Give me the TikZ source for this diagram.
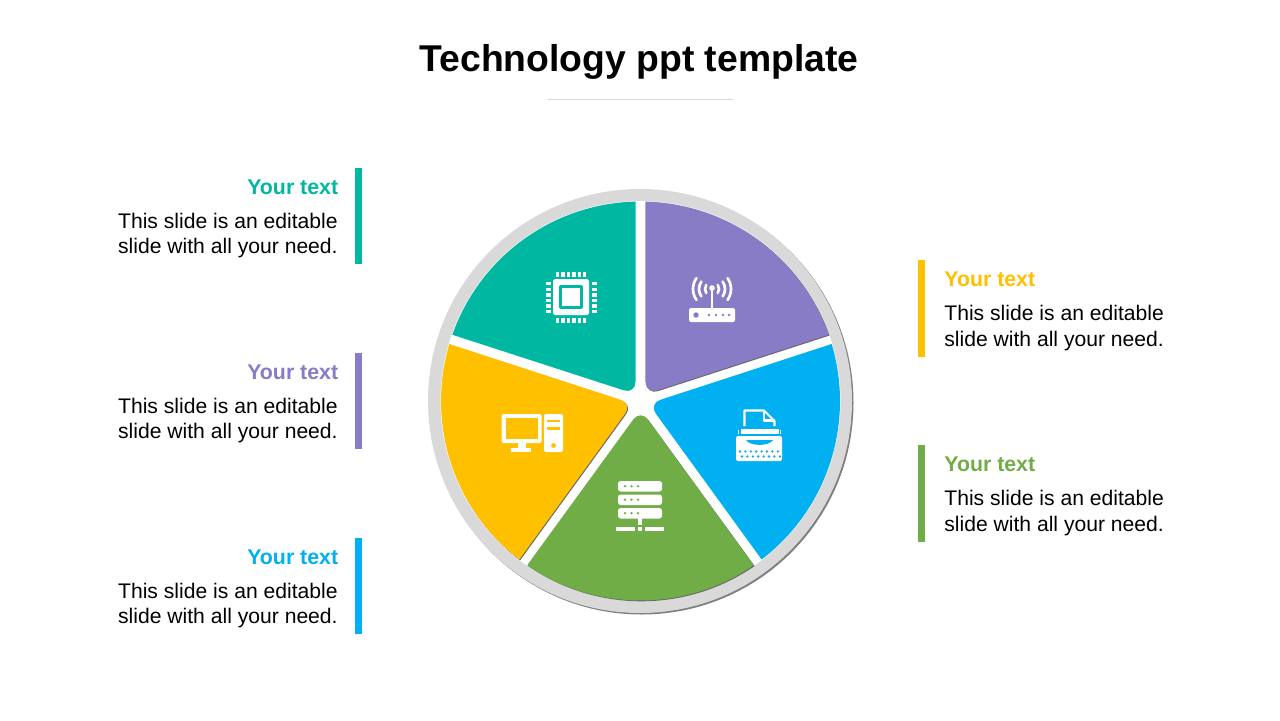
\documentclass[tikz,border=0pt]{standalone}
\usepackage{fontspec}
\setmainfont{Liberation Sans}
\definecolor{tealc}{HTML}{00B8A2}
\definecolor{purplec}{HTML}{887CC7}
\definecolor{yellowc}{HTML}{FFC000}
\definecolor{bluec}{HTML}{00B0F0}
\definecolor{greenc}{HTML}{70AD47}
\definecolor{ringc}{HTML}{D9D9D9}
\tikzset{
	headtext/.style={inner sep=0pt,font=\fontsize{12.14}{14.2}\selectfont\bfseries},
	bodytext/.style={inner sep=0pt,font=\fontsize{12.02}{14.3}\selectfont},
	icon/.style={white,line width=1.5pt}
}
\begin{document}
\begin{tikzpicture}[line join=round,x=.02cm,y=-.02cm]
	\useasboundingbox (0,0) rectangle (1280,720);
	\node[font=\fontsize{21.24}{25}\selectfont\bfseries,inner sep=0pt] (title) at (639,62) {Technology ppt template};
	\draw[black!15,thin] (548,99)--(733,99);
	% side texts
	\foreach \nm/\col/\y in {chip/tealc/168,router/purplec/353,printer/bluec/538} {
		\fill[\col] (355,\y) rectangle (362,\y+96);
		\node[headtext,text=\col,anchor=east] (head\nm) at (338.5,\y+19) {Your text};
		\node[bodytext,align=right,anchor=east] (body\nm) at (338,\y+67.5) {This slide is an editable\\slide with all your need.};
	}
	\foreach \nm/\col/\y in {pc/yellowc/260,server/greenc/445} {
		\fill[\col] (918,\y) rectangle (925,\y+97);
		\node[headtext,text=\col,anchor=west] (head\nm) at (944,\y+19) {Your text};
		\node[bodytext,align=left,anchor=west] (body\nm) at (944,\y+68) {This slide is an editable\\slide with all your need.};
	}
	% ring and sectors
	\fill[black!50] (641.5,402.5) circle (212);
	\fill[ringc] (640,401) circle (212);
	\fill[white] (640.5,401) circle (200);
	\begin{scope}[shift={(640.5,401)}]
		\foreach \a/\col/\sh in {-90/purplec/1,-18/bluec/0,54/greenc/1,126/yellowc/1,198/tealc/0} {
			\ifnum\sh=1
			\fill[black!60,shift={(.8,.8)}] ({\a+1.4}:199.5) arc[start angle=\a+1.4,end angle=\a+70.6,radius=199.5] [rounded corners=7pt] -- ({\a+36}:8.5) [sharp corners] -- cycle;
			\fi
			\fill[\col] ({\a+1.4}:199.5) arc[start angle=\a+1.4,end angle=\a+70.6,radius=199.5] [rounded corners=7pt] -- ({\a+36}:8.5) [sharp corners] -- cycle;
		}
	\end{scope}
	% chip
	\fill[white,rounded corners=1pt] (553,279) rectangle (589,315);
	\draw[tealc,line width=1.7pt] (560.5,286.5) rectangle (581.5,307.5);
	\foreach \i in {0,...,5} {
		\fill[white] (556+\i*5.4,272) rectangle +(3.4,4.5);
		\fill[white] (556+\i*5.4,318) rectangle +(3.4,4.5);
		\fill[white] (545.5,282+\i*5.6) rectangle +(5.5,3.4);
		\fill[white] (591.5,282+\i*5.6) rectangle +(5.5,3.4);
	}
	% router
	\fill[white,rounded corners=1.2pt] (689,308) rectangle (735,322);
	\fill[purplec] (696,315) circle (2.7);
	\foreach \x in {709,716,723,729}
	\fill[purplec] (\x,315) circle (1.3);
	\draw[white,line width=1.2pt] (712,290)--(712,308);
	\fill[white] (712,288) circle (2.8);
	\foreach \r in {7,13,19} {
		\draw[icon,line cap=round] (712,289)++(145:\r) arc[start angle=145,end angle=215,radius=\r];
		\draw[icon,line cap=round] (712,289)++(-35:\r) arc[start angle=-35,end angle=35,radius=\r];
	}
	% printer
	\draw[icon,line width=1.2pt] (744.5,426)--(744.5,410.5)--(764,410.5)--(774.5,421)--(774.5,426);
	\draw[icon,line width=1.2pt] (764,410.5)--(764,420.5)--(774.5,420.5);
	\fill[white] (740.5,429) rectangle (778.5,433.5);
	\fill[white] (738,430) rectangle (739.3,433.5);
	\fill[white] (779.7,430) rectangle (781,433.5);
	\fill[white,rounded corners=1.2pt] (736,436) rectangle (782,461);
	\fill[bluec] (746,440) .. controls (750,446.5) and (769,446.5) .. (773,440) -- cycle;
	\foreach \x in {740,745.4,...,778} {
		\fill[bluec] (\x,451.5) circle (1.3);
		\fill[bluec] (\x+2,456.5) circle (1.3);
	}
	% computer
	\fill[white,rounded corners=1.2pt] (501.5,414) rectangle (541.5,443);
	\fill[yellowc] (505.5,418) rectangle (537.5,439);
	\fill[white] (518,443) rectangle (526,448);
	\fill[white] (511,448) rectangle (531,452);
	\fill[white,rounded corners=1.2pt] (544,414) rectangle (563,452);
	\fill[yellowc] (547,419.5) rectangle (560,422);
	\fill[yellowc] (547,427) rectangle (560,429.5);
	\fill[yellowc] (553.5,445.5) circle (2.4);
	% server
	\foreach \y in {481,494.5,508} {
		\fill[white,rounded corners=1.5pt] (618,\y) rectangle (662,\y+10.5);
		\foreach \x in {625,631.5,638}
		\fill[greenc] (\x,\y+5.2) circle (1.3);
	}
	\fill[white] (638,518) rectangle (642,525);
	\fill[white] (616,527) rectangle (635,531);
	\fill[white] (638,527) rectangle (642,531);
	\fill[white] (645,527) rectangle (664,531);
\end{tikzpicture}
\end{document}
